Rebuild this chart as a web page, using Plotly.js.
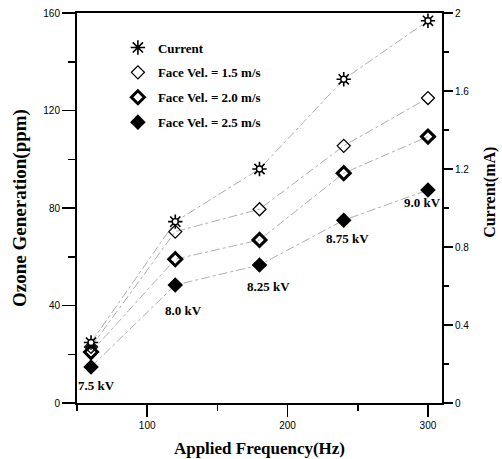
<!DOCTYPE html>
<html>
<head>
<meta charset="utf-8">
<script src="https://cdn.plot.ly/plotly-3.0.1.min.js"></script>
<style>html,body{margin:0;padding:0;background:#fff;}#chart{width:502px;height:459px;}</style>
</head>
<body>
<div id="chart"></div>
<script>
// Data
var frequency = [60, 120, 180, 240, 300];           // Hz
var currentMA = [0.31, 0.93, 1.20, 1.66, 1.96];     // mA (right axis)
var ozoneV15 = [23.0, 70.3, 79.5, 105.5, 125.1];    // ppm, face vel 1.5 m/s
var ozoneV20 = [20.9, 59.0, 66.9, 94.3, 109.3];     // ppm, face vel 2.0 m/s
var ozoneV25 = [14.8, 48.4, 56.6, 75.0, 87.4];      // ppm, face vel 2.5 m/s
var seriesNames = ["Current", "Face Vel. = 1.5 m/s", "Face Vel. = 2.0 m/s", "Face Vel. = 2.5 m/s"];
var voltLabels = ["7.5 kV", "8.0 kV", "8.25 kV", "8.75 kV", "9.0 kV"];
var voltLabelX = [64, 126, 186.6, 243, 296];
var voltLabelY = [7.2, 38, 47.7, 67.6, 82.4];

var serif = "Liberation Serif, Times New Roman, serif";
var sans = "Liberation Sans, Arial, sans-serif";
var trendLine = {color: "#999", width: 0.8, dash: "dashdot"};

var traces = [
  // trend lines (drawn first, under markers)
  {x: frequency, y: currentMA, yaxis: "y2", mode: "lines", line: trendLine, showlegend: false, hoverinfo: "skip"},
  {x: frequency, y: ozoneV15, mode: "lines", line: trendLine, showlegend: false, hoverinfo: "skip"},
  {x: frequency, y: ozoneV20, mode: "lines", line: trendLine, showlegend: false, hoverinfo: "skip"},
  {x: frequency, y: ozoneV25, mode: "lines", line: trendLine, showlegend: false, hoverinfo: "skip"},
  // markers
  {x: frequency, y: currentMA, yaxis: "y2", mode: "markers", name: seriesNames[0], legendgroup: "a",
   marker: {symbol: "asterisk-open", size: 12, color: "black", line: {width: 1.6, color: "black"}}},
  {x: frequency, y: currentMA, yaxis: "y2", mode: "markers", showlegend: false, hoverinfo: "skip",
   marker: {symbol: "circle", size: 6, color: "white", line: {width: 1.4, color: "black"}}},
  {x: frequency, y: ozoneV15, mode: "markers", name: seriesNames[1], legendgroup: "b",
   marker: {symbol: "diamond-open", size: 10, color: "black", line: {width: 1.3, color: "black"}}},
  {x: frequency, y: ozoneV20, mode: "markers", name: seriesNames[2], legendgroup: "c",
   marker: {symbol: "diamond-open", size: 10, color: "black", line: {width: 3, color: "black"}}},
  {x: frequency, y: ozoneV25, mode: "markers", name: seriesNames[3], legendgroup: "d",
   marker: {symbol: "diamond", size: 12, color: "black", line: {width: 0}}}
];

var annotations = voltLabels.map(function (t, i) {
  return {x: voltLabelX[i], y: voltLabelY[i], xref: "x", yref: "y", text: "<b>" + t + "</b>",
    showarrow: false, font: {family: serif, size: 13, color: "black"}};
});
annotations.push({
  x: (491 - 77) / 365.5, y: 0.54, xref: "paper", yref: "paper", xanchor: "center", yanchor: "middle",
  text: "<b>Current(mA)</b>", textangle: -90, showarrow: false,
  font: {family: serif, size: 16, color: "black"}
});

var layout = {
  width: 502, height: 459,
  margin: {l: 77, r: 59.5, t: 13, b: 56.4},
  paper_bgcolor: "white", plot_bgcolor: "white",
  font: {family: sans, size: 10, color: "black"},
  xaxis: {
    range: [50, 310], tick0: 0, dtick: 100, ticks: "outside", ticklen: 12, tickwidth: 1.5, tickcolor: "black",
    minor: {dtick: 50, tick0: 0, ticks: "outside", ticklen: 6, tickwidth: 1.5, tickcolor: "black"},
    showline: true, linewidth: 2, linecolor: "black", mirror: true, showgrid: false, zeroline: false,
    tickfont: {family: sans, size: 10},
    title: {text: "<b>Applied Frequency(Hz)</b>", font: {family: serif, size: 17, color: "black"}, standoff: 12}
  },
  yaxis: {
    range: [0, 160], tick0: 0, dtick: 40, ticks: "outside", ticklen: 13, tickwidth: 1.5, tickcolor: "black",
    minor: {dtick: 20, ticks: "outside", ticklen: 7, tickwidth: 1.5, tickcolor: "black"},
    showline: true, linewidth: 2, linecolor: "black", showgrid: false, zeroline: false,
    tickfont: {family: sans, size: 10},
    title: {text: "<b>Ozone Generation(ppm)</b>", font: {family: serif, size: 19, color: "black"}, standoff: 12}
  },
  yaxis2: {
    overlaying: "y", side: "right", range: [0, 2], tick0: 0, dtick: 0.4,
    ticks: "outside", ticklen: 9, tickwidth: 1.5, tickcolor: "black",
    minor: {dtick: 0.2, ticks: "outside", ticklen: 5, tickwidth: 1.5, tickcolor: "black"},
    showline: true, linewidth: 2, linecolor: "black", showgrid: false, zeroline: false,
    tickfont: {family: sans, size: 10}
  },
  showlegend: true,
  legend: {
    x: 0.112, y: 0.95, xanchor: "left", yanchor: "top", bgcolor: "rgba(0,0,0,0)",
    font: {family: serif, size: 13, color: "black", weight: "bold"},
    traceorder: "grouped", tracegroupgap: 5, itemwidth: 30
  },
  annotations: annotations
};

Plotly.newPlot("chart", traces, layout, {staticPlot: true, displayModeBar: false});
</script>
</body>
</html>
